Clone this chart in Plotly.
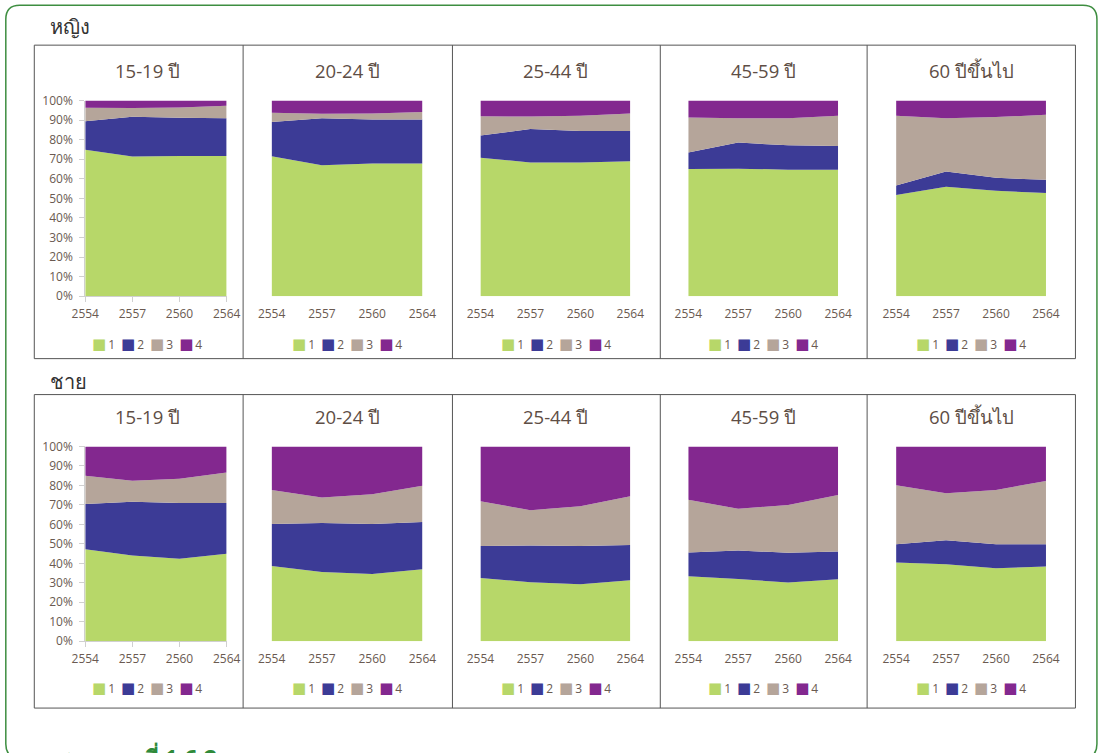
import plotly.graph_objects as go

W, H = 1099, 753

years = ["2554", "2557", "2560", "2564"]
age_groups = ["15-19 ปี", "20-24 ปี", "25-44 ปี", "45-59 ปี", "60 ปีขึ้นไป"]
categories = ["1", "2", "3", "4"]
colors = ["#B7D769", "#3C3B96", "#B5A59A", "#83288F"]
sex_labels = ["หญิง", "ชาย"]

# Shares (%) per category, one row per age group, columns follow `years`
female_cat1 = [[74.8, 71.4, 71.6, 71.6], [71.5, 66.9, 67.8, 67.8], [70.8, 68.4, 68.4, 69.0],
               [65.0, 65.2, 64.7, 64.7], [51.7, 55.9, 53.9, 52.7]]
female_cat2 = [[14.6, 20.3, 19.6, 19.4], [17.5, 24.1, 22.5, 22.5], [11.3, 17.0, 16.0, 15.4],
               [8.4, 13.3, 12.4, 12.1], [4.9, 7.8, 6.6, 6.8]]
female_cat3 = [[6.9, 4.5, 5.2, 6.3], [4.8, 2.2, 3.1, 3.8], [9.9, 6.4, 7.8, 9.0],
               [18.0, 12.4, 13.8, 15.4], [35.6, 27.3, 31.1, 33.2]]
female_cat4 = [[3.7, 3.8, 3.6, 2.7], [6.2, 6.8, 6.6, 5.9], [8.0, 8.2, 7.8, 6.6],
               [8.6, 9.1, 9.1, 7.8], [7.8, 9.0, 8.4, 7.3]]

male_cat1 = [[47.2, 44.0, 42.3, 44.9], [38.6, 35.5, 34.5, 36.9], [32.4, 30.3, 29.3, 31.3],
             [33.4, 32.0, 30.1, 31.8], [40.4, 39.5, 37.5, 38.3]]
male_cat2 = [[23.3, 27.6, 28.7, 26.1], [21.6, 25.2, 25.7, 24.3], [16.5, 18.9, 19.6, 18.1],
             [12.1, 14.6, 15.3, 14.3], [9.4, 12.4, 12.3, 11.5]]
male_cat3 = [[14.5, 10.8, 12.4, 15.6], [17.4, 13.1, 15.3, 18.6], [23.0, 18.1, 20.4, 25.0],
             [27.2, 21.4, 24.6, 29.0], [30.3, 24.1, 27.9, 32.5]]
male_cat4 = [[15.0, 17.6, 16.6, 13.4], [22.4, 26.2, 24.5, 20.2], [28.1, 32.7, 30.7, 25.6],
             [27.3, 32.0, 30.0, 24.9], [19.9, 24.0, 22.3, 17.7]]

y_ticks = list(range(0, 101, 10))
y_tick_text = [f"{v}%" for v in y_ticks]

# ---- layout geometry, in view pixels from the top-left of the window ----
plot_x = [(84.5, 226), (271, 422), (480, 630), (688, 838), (896, 1046)]
box_x = [33.5, 242.5, 452, 660, 867, 1075.5]
rows = [
    dict(box=(44, 358), plot=(99.5, 295.5), title_y=69, legend_y=342, label_y=25),
    dict(box=(394, 708), plot=(446, 641), title_y=416, legend_y=687, label_y=381),
]

# where the figure's own pixel grid sits inside the window
VIEW_X0, VIEW_Y0 = 13.2, 7.8
VIEW_KX, VIEW_KY = 0.9753, 0.979

TEXT = "#5E4E45"
TICK = "#6A5A51"
FONT = "Open Sans, Noto Sans, DejaVu Sans, sans-serif"


def fx(x):
    """window x -> paper fraction"""
    return (x - VIEW_X0) / VIEW_KX / W


def fy(y):
    """window y -> paper fraction"""
    return 1 - (y - VIEW_Y0) / VIEW_KY / H


fig = go.Figure()
layout = {}
annotations = []
shapes = []

series_by_sex = [
    [female_cat1, female_cat2, female_cat3, female_cat4],
    [male_cat1, male_cat2, male_cat3, male_cat4],
]

n = 0
for r, row in enumerate(rows):
    y_top, y_bot = row["plot"]
    for p in range(len(age_groups)):
        n += 1
        xa = "x" if n == 1 else f"x{n}"
        ya = "y" if n == 1 else f"y{n}"
        first = p == 0
        for k, cat in enumerate(categories):
            fig.add_trace(go.Scatter(
                x=years, y=series_by_sex[r][k][p], name=cat,
                mode="none", stackgroup=f"g{n}", fillcolor=colors[k],
                xaxis=xa, yaxis=ya, showlegend=False,
                hovertemplate="%{x}: %{y:.1f}%<extra>" + cat + "</extra>",
            ))
        x0, x1 = plot_x[p]
        layout["xaxis" if n == 1 else f"xaxis{n}"] = dict(
            domain=[fx(x0), fx(x1)], anchor=ya, type="category",
            range=[0, len(years) - 1], showgrid=False, zeroline=False,
            showline=first, linecolor="#D0D0D0", linewidth=1,
            ticks="outside", ticklen=5, tickcolor="#D0D0D0" if first else "rgba(0,0,0,0)",
            ticklabelstandoff=1,
            tickfont=dict(family=FONT, size=12, color=TICK), fixedrange=True,
        )
        layout["yaxis" if n == 1 else f"yaxis{n}"] = dict(
            domain=[fy(y_bot), fy(y_top)], anchor=xa, range=[0, 100],
            tickmode="array", tickvals=y_ticks, ticktext=y_tick_text, showticklabels=first,
            showgrid=False, zeroline=False, showline=first, linecolor="#D0D0D0",
            ticks="outside" if first else "", ticklen=5, tickcolor="#D0D0D0",
            ticklabelstandoff=4,
            tickfont=dict(family=FONT, size=12, color=TICK), fixedrange=True,
        )
        # panel title
        box_c = (box_x[p] + box_x[p + 1]) / 2
        plot_c = (x0 + x1) / 2
        annotations.append(dict(
            x=fx((box_c + plot_c) / 2), y=fy(row["title_y"]), xref="paper", yref="paper",
            text=age_groups[p], showarrow=False, xanchor="center", yanchor="middle",
            font=dict(family=FONT, size=18.5, color=TEXT),
        ))
        # legend row
        items = [f'<span style="color:{c};font-size:15px">■</span>\u2009{cat}'
                 for c, cat in zip(colors, categories)]
        annotations.append(dict(
            x=fx((box_c + plot_c) / 2), y=fy(row["legend_y"]), xref="paper", yref="paper",
            text="\u2002".join(items), showarrow=False, xanchor="center", yanchor="middle",
            font=dict(family=FONT, size=12, color=TICK),
        ))
    # row frame and dividers
    b0, b1 = row["box"]
    shapes.append(dict(type="rect", xref="paper", yref="paper",
                       x0=fx(box_x[0]), x1=fx(box_x[-1]), y0=fy(b1), y1=fy(b0),
                       line=dict(color="#555555", width=1), layer="above"))
    for xd in box_x[1:-1]:
        shapes.append(dict(type="line", xref="paper", yref="paper",
                           x0=fx(xd), x1=fx(xd), y0=fy(b1), y1=fy(b0),
                           line=dict(color="#555555", width=1), layer="above"))
    annotations.append(dict(
        x=fx(47), y=fy(row["label_y"]), xref="paper", yref="paper",
        text=sex_labels[r], showarrow=False, xanchor="left", yanchor="middle",
        font=dict(family=FONT, size=20, color="#333333"),
    ))

# green outer frame with rounded corners (its lower edge falls below the window)
gx0, gy0, gx1, gy1, rad = 5, 4, 1097, 758, 14
rx, ry = rad, rad
path = (f"M {fx(gx0 + rx)},{fy(gy0)} L {fx(gx1 - rx)},{fy(gy0)} "
        f"Q {fx(gx1)},{fy(gy0)} {fx(gx1)},{fy(gy0 + ry)} L {fx(gx1)},{fy(gy1 - ry)} "
        f"Q {fx(gx1)},{fy(gy1)} {fx(gx1 - rx)},{fy(gy1)} L {fx(gx0 + rx)},{fy(gy1)} "
        f"Q {fx(gx0)},{fy(gy1)} {fx(gx0)},{fy(gy1 - ry)} L {fx(gx0)},{fy(gy0 + ry)} "
        f"Q {fx(gx0)},{fy(gy0)} {fx(gx0 + rx)},{fy(gy0)} Z")
shapes.append(dict(type="path", xref="paper", yref="paper", path=path,
                   line=dict(color="#3E8E41", width=1.5), layer="below"))

# figure caption, running off the bottom edge
annotations.append(dict(
    x=fx(63), y=fy(740), xref="paper", yref="paper",
    text="<b>➤\u2002\u2009ภาพที่ 1.6.2</b>", showarrow=False, xanchor="left", yanchor="top",
    font=dict(family=FONT, size=23, color="#2F8A3A"),
))

fig.update_layout(
    width=W, height=H, autosize=False, margin=dict(l=0, r=0, t=0, b=0),
    paper_bgcolor="white", plot_bgcolor="white",
    showlegend=False, annotations=annotations, shapes=shapes,
    **layout,
)

fig.write_html("out.html", config={"displayModeBar": False})
